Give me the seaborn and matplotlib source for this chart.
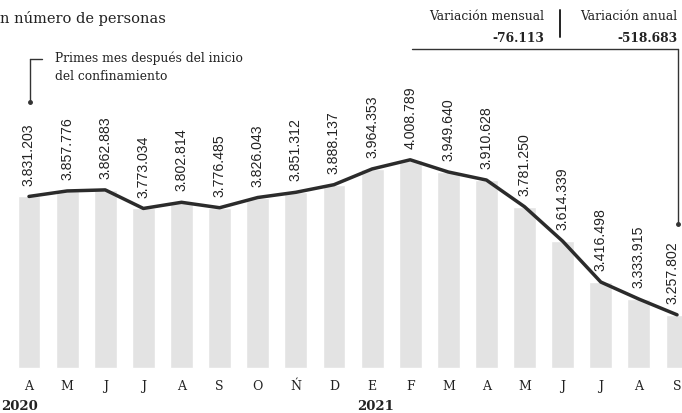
import pandas as pd
import seaborn as sns
import matplotlib.pyplot as plt
from matplotlib.lines import Line2D

# DATA
month_keys = ['2020-04', '2020-05', '2020-06', '2020-07', '2020-08', '2020-09',
              '2020-10', '2020-11', '2020-12', '2021-01', '2021-02', '2021-03',
              '2021-04', '2021-05', '2021-06', '2021-07', '2021-08', '2021-09']
month_labels = ['A', 'M', 'J', 'J', 'A', 'S', 'O', 'Ń', 'D',
                'E', 'F', 'M', 'A', 'M', 'J', 'J', 'A', 'S']
personas = [3831203, 3857776, 3862883, 3773034, 3802814, 3776485,
            3826043, 3851312, 3888137, 3964353, 4008789, 3949640,
            3910628, 3781250, 3614339, 3416498, 3333915, 3257802]
value_labels = ['3.831.203', '3.857.776', '3.862.883', '3.773.034', '3.802.814',
                '3.776.485', '3.826.043', '3.851.312', '3.888.137', '3.964.353',
                '4.008.789', '3.949.640', '3.910.628', '3.781.250', '3.614.339',
                '3.416.498', '3.333.915', '3.257.802']
base = 3000000  # the bars start here, not at zero

df = pd.DataFrame({'mes': month_keys, 'valor': personas})
df['alto'] = df['valor'] - base
df['pos'] = range(len(df))

sns.set_style('white')
plt.rcParams['font.family'] = ['DejaVu Serif', 'DejaVu Sans']

W, H = 682, 414
fig = plt.figure(figsize=(W / 100, H / 100), dpi=100)
ax = fig.add_axes([0, 0, 1, 1])


def px(x, y):
    # pixel position -> figure fraction
    return x / W, 1 - y / H


sns.barplot(data=df, x='pos', y='alto', color='#e3e3e3', width=0.6,
            saturation=1, ax=ax, native_scale=True)
sns.lineplot(data=df, x='pos', y='alto', color='#2b2b2b', linewidth=2.5, ax=ax)

for i, row in df.iterrows():
    # the last label sits at the right edge, nudge it in a little
    dx = -3.5 if i == len(df) - 1 else 0
    ax.annotate(value_labels[i], (row['pos'], row['alto']), xytext=(dx, 8.5),
                textcoords='offset points', rotation=90, ha='center', va='bottom',
                fontsize=10.2, family='Liberation Sans', color='#222222')
    ax.text(row['pos'], 0.067, month_labels[i], transform=ax.get_xaxis_transform(),
            ha='center', va='center', fontsize=9, color='#222222')

ax.set_xlim(-29 / 38.12, (W - 29) / 38.12)
ax.set_ylim(-218000, 1787800)
ax.axis('off')

# texts
fig.text(*px(0, 18), 'n número de personas', fontsize=10.5, va='center', ha='left', color='#222222')
fig.text(*px(20, 407), '2020', fontsize=9.5, fontweight='bold', ha='center', va='center', color='#222222')
fig.text(*px(376, 407), '2021', fontsize=9.5, fontweight='bold', ha='center', va='center', color='#222222')

fig.text(*px(55, 58), 'Primes mes después del inicio', fontsize=8.8, va='center', color='#222222')
fig.text(*px(55, 77), 'del confinamiento', fontsize=8.8, va='center', color='#222222')
fig.add_artist(Line2D(*zip(px(30, 60), px(30, 103)), transform=fig.transFigure, color='#333333', lw=1))
fig.add_artist(Line2D(*zip(px(30, 60), px(42, 60)), transform=fig.transFigure, color='#333333', lw=1))
fig.add_artist(Line2D([px(30, 103)[0]], [px(30, 103)[1]], transform=fig.transFigure,
                      marker='o', ms=2.5, color='#333333'))

fig.text(*px(544, 16), 'Variación mensual', fontsize=8.8, ha='right', va='center', color='#222222')
fig.text(*px(544, 38), '-76.113', fontsize=8.8, fontweight='bold', ha='right', va='center', color='#222222')
fig.text(*px(677, 16), 'Variación anual', fontsize=8.8, ha='right', va='center', color='#222222')
fig.text(*px(677, 38), '-518.683', fontsize=8.8, fontweight='bold', ha='right', va='center', color='#222222')
fig.add_artist(Line2D(*zip(px(560, 11), px(560, 38)), transform=fig.transFigure, color='#222222', lw=1.4))
fig.add_artist(Line2D(*zip(px(412, 50), px(678, 50)), transform=fig.transFigure, color='#333333', lw=1))
fig.add_artist(Line2D(*zip(px(678, 50), px(678, 225)), transform=fig.transFigure, color='#333333', lw=1))
fig.add_artist(Line2D([px(678, 225)[0]], [px(678, 225)[1]], transform=fig.transFigure,
                      marker='o', ms=2.5, color='#333333'))

fig.savefig('out.png', dpi=100)
